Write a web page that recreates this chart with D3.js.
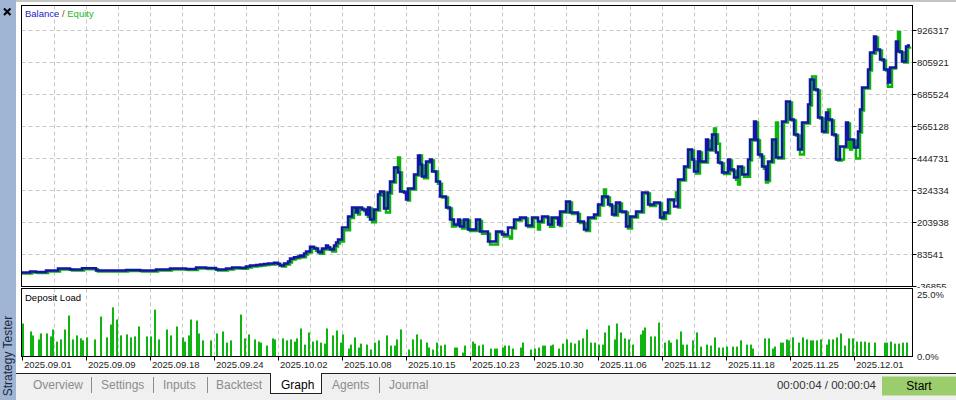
<!DOCTYPE html>
<html>
<head>
<meta charset="utf-8">
<script src="https://cdn.jsdelivr.net/npm/d3@7"></script>
<style>
    body { margin: 0; background: #fff; overflow: hidden; }
    svg { display: block; font-family: "Liberation Sans", Arial, sans-serif; }
</style>
</head>
<body>
<svg id="chart" width="956" height="400"></svg>
<script>
// balance after each deal: [deal number, balance]
const balance = [
    [0,15800],[4,19600],[7,17700],[12,23300],[18,30900],[24,27100],[30,32000],[37,23300],[44,23300],[52,25200],
    [59,23300],[67,27100],[74,30900],[82,29000],[87,34600],[92,32700],[97,27100],[102,30900],[105,34600],[109,33500],
    [112,38400],[114,42200],[117,44000],[119,45900],[121,47800],[123,49700],[126,52300],[128,47800],[129,42200],[131,49700],
    [133,57200],[134,68500],[136,73400],[138,76000],[139,80000],[140,77100],[141,87300],[142,94800],[144,112500],[146,106100],
    [148,92200],[150,106100],[152,117400],[153,109900],[154,102400],[156,117400],[157,128700],[158,140000],[160,185100],[163,226500],
    [165,260400],[167,241600],[168,260400],
    [170,252900],[172,234000],[173,260400],[174,215200],[176,252900],[178,309300],[179,320600],[181,256600],[183,316800],[184,358200],
    [186,410900],[188,392100],[189,320600],[191,316800],[192,290500],[193,331900],[196,384500],[198,456000],[199,422200],[200,377000],
    [202,433400],[204,441000],[205,395800],[207,358200],[209,301800],[212,260400],[214,215200],[216,196400],[218,215200],[219,188900],
    [221,215200],[223,177600],[227,215200],[229,170100],[233,132500],[237,170100],[240,158800],[243,185100],[246,215200],[249,222800],
    [252,192700],[255,222800],[258,207700],[260,226500],[263,196400],[265,222800],[268,196400],[269,245300],[272,282900],[274,241600],
    [278,207700],[281,177600],[283,222800],[286,234000],[288,271700],[290,301800],[293,271700],[295,234000],[297,279200],[299,245300],
    [302,188900],[304,226500],[307,245300],[310,316800],[313,271700],[316,279200],[319,222800],[321,241600],[323,290500],[326,264100],
    [328,365700],[331,414600],[333,478600],[335,441000],[336,395800],[338,471100],[339,433400],[342,516200],[343,478600],[345,535000],
    [347,467300],[348,429700],[350,392100],[353,441000],[354,403300],[356,373200],[358,414600],[360,384500],[363,441000],[364,516200],
    [366,583900],[367,516200],[368,459800],[370,414600],[372,365700],[373,433400],[375,516200],[377,448500],[380,583900],[382,659200],
    [384,591500],[386,535000],[388,478600],[390,580200],[393,647900],[394,742000],[396,704300],[398,599000],[400,546300],[402,617800],
    [403,591500],[405,535000],[407,441000],[409,489900],[412,580200],[413,516200],[416,486100],[418,546300],[419,629100],[420,711900],
    [423,779600],[424,843500],[426,903700],[427,854900],[429,817200],[431,779600],[433,730700],[434,787100],[437,884900],[438,847300],
    [440,809700],[442,866100],[443,869900],[444,869900]
];

// equity: [deal number, equity]
const equity = [
    [0,12000],[5,15600],[8,13700],[13,19300],[19,26900],[25,23100],[31,28000],[38,19300],[45,19300],[53,21200],
    [60,19300],[68,23100],[75,26900],[83,25000],[88,30600],[93,28700],[98,23100],[103,26900],[106,30600],[110,29500],
    [113,34400],[115,38200],[118,40000],[120,41900],[122,43800],[124,45700],[127,48300],[129,43800],[130,38200],[132,45700],
    [134,53200],[135,64500],[137,69400],[139,72000],[140,76000],[141,73100],[142,83300],[143,90800],[145,108500],[147,98100],
    [149,86200],[151,102100],[153,111400],[154,105900],[155,94400],[157,113400],[158,124700],[159,132000],[161,175100],[164,220500],
    [166,256400],[168,233600],[169,256400],
    [171,246900],[173,226000],[174,256400],[175,205200],[177,248900],[179,305300],[180,316600],[182,241600],[184,312800],[185,354200],
    [187,410900],[188,448500],[189,392100],[190,320600],[192,312800],[193,286500],[194,327900],[197,380500],[199,456000],[200,418200],
    [201,370000],[203,429400],[205,437000],[206,395800],[208,350000],[210,297800],[213,256400],[215,188900],[217,192400],[219,211200],
    [220,181000],[222,211200],[224,171600],[228,209200],[230,162000],[234,121200],[238,166100],[241,150800],[244,143700],[245,181100],
    [247,211200],[250,218800],[253,186700],[256,218800],[258,177600],[259,203700],[261,222500],[264,188400],[266,218800],[269,190400],
    [270,241300],[273,278900],[275,235600],[279,201700],[282,171600],[284,218800],[287,230000],[289,267700],[291,328000],[292,297800],
    [294,265700],[296,230000],[298,275200],[300,241300],[303,181000],[305,222500],[308,241300],[311,312800],[314,265700],[317,275200],
    [320,216800],[322,237600],[324,286500],[327,316800],[328,260100],[329,361700],[332,410600],[334,474600],[336,433000],[337,388000],
    [339,467100],[340,429400],[343,512200],[344,474600],[346,557600],[347,535000],[348,500000],[349,425700],[351,386100],[354,437000],
    [355,397300],[357,365200],[358,346900],[359,410600],[361,376500],[364,437000],[365,512200],[367,579900],[368,512200],[369,451800],
    [371,406600],[372,354000],[373,359700],[374,429400],[376,512200],[377,580200],[378,444500],[381,579900],[383,655200],[385,587500],
    [387,531000],[389,459800],[391,576200],[394,643900],[395,753300],[397,700300],[399,595000],[401,542300],[403,629100],[404,587500],
    [406,531000],[408,437000],[410,441000],[411,485900],[413,576200],[414,478600],[415,512200],[417,444700],[419,542300],[420,625100],
    [421,707900],[424,775600],[425,839500],[427,899700],[428,850900],[430,813200],[432,775600],[433,715000],[435,783100],[437,880900],
    [438,921000],[439,843300],[441,805700],[443,862100],[444,866000]
];

// deposit load in percent: [deal number, load]
const depositLoad = [
    [0,13.3],[4,10.1],[5,8.5],[8,6.9],[9,9.3],[12,9.3],[14,8.1],[15,10.9],[17,6.0],[19,6.9],
    [21,10.9],[23,16.5],[25,6.9],[27,8.5],[29,7.3],[30,6.5],[32,7.7],[36,6.9],[39,16.1],[42,7.7],
    [44,12.9],[45,19.8],[47,14.9],[49,8.5],[52,8.9],[54,7.7],[56,8.1],[58,12.1],[62,8.1],[64,8.1],
    [66,18.9],[68,6.9],[72,10.9],[74,8.5],[77,12.1],[80,7.7],[81,6.0],[83,8.5],[84,14.9],[87,14.5],
    [88,9.3],[90,6.5],[94,6.5],[97,9.3],[100,10.1],[102,5.6],[104,6.5],[109,16.9],[111,7.3],[113,8.9],
    [116,6.9],[118,6.0],[119,5.6],[122,4.4],[125,7.3],[126,6.9],[130,7.3],[132,6.5],[134,6.9],[136,6.0],
    [137,7.3],[139,11.3],[141,4.8],[143,9.7],[145,6.0],[147,6.5],[149,5.6],[151,5.2],[152,11.3],[155,8.5],
    [157,10.5],[159,5.6],[160,8.9],[163,3.2],[164,4.8],[166,7.7],[168,3.6],[169,5.2],[172,4.8],[174,2.8],
    [176,5.6],[178,6.5],[182,8.5],[184,4.4],[186,4.4],[187,6.9],[189,10.9],[193,2.8],[195,6.9],[197,8.9],
    [199,6.9],[202,5.6],[203,3.6],[205,2.8],[207,5.6],[209,4.4],[211,4.8],[216,3.6],[217,3.6],[220,1.6],
    [221,4.4],[225,6.0],[226,5.2],[228,4.4],[230,4.8],[234,3.2],[236,3.2],[237,3.2],[240,3.6],[241,4.4],
    [243,4.4],[245,3.2],[249,3.6],[250,5.6],[254,2.8],[256,3.2],[258,3.6],[260,4.4],[261,4.4],[264,4.4],
    [265,4.8],[268,3.2],[270,5.2],[272,6.9],[274,5.6],[276,5.2],[278,6.5],[280,7.3],[282,10.9],[284,5.6],
    [286,5.6],[288,4.8],[290,4.8],[291,9.7],[293,12.5],[296,6.9],[297,13.3],[299,9.7],[301,7.3],[303,6.9],
    [305,4.8],[309,8.9],[310,10.5],[311,11.7],[314,8.1],[316,8.1],[318,13.7],[321,5.6],[323,6.5],[324,5.6],
    [327,6.9],[329,10.1],[330,4.8],[332,4.8],[335,6.5],[337,9.7],[339,4.0],[342,4.8],[344,4.4],[346,7.7],
    [348,3.6],[350,3.6],[352,4.0],[355,4.0],[357,4.0],[359,6.5],[362,4.8],[364,4.8],[365,3.2],[371,7.3],
    [373,7.3],[375,3.2],[376,4.0],[379,5.6],[380,5.6],[382,6.9],[383,6.5],[385,7.7],[388,5.6],[390,7.7],
    [392,6.9],[394,6.5],[395,6.5],[397,6.5],[399,6.9],[402,4.8],[403,6.9],[405,6.9],[407,7.7],[409,9.3],
    [411,4.4],[413,7.3],[415,7.3],[417,6.0],[419,6.0],[421,6.0],[423,5.6],[426,5.6],[431,5.6],[432,5.6],
    [434,6.0],[436,5.2],[438,5.2],[440,5.6],[442,5.6]
];

const dateLabels = ["2025.09.01","2025.09.09","2025.09.18","2025.09.24","2025.10.02","2025.10.08","2025.10.15",
    "2025.10.23","2025.10.30","2025.11.06","2025.11.12","2025.11.18","2025.11.25","2025.12.01"];
const dateDeals = [0,32,64,96,128,160,192,224,256,288,320,352,384,416];
const valueTicks = [-36855,83541,203938,324334,444731,565128,685524,805921,926317];
const loadTicks = [0,25];
const tabNames = ["Overview","Settings","Inputs","Backtest","Graph","Agents","Journal"];
const tabLeft = [33,101,163,216,281,332,389];
const tabSeparators = [91,153,207,379];

const svg = d3.select("#chart");
const BLUE = "#1414a8", GREEN = "#0db30d", GRID = "#c8c8c8", TEXT = "#1e1e1e";

const main = {left: 21.5, right: 912.5, top: 5.5, bottom: 286.5};
const load = {top: 288.5, bottom: 356.5};

const x = d3.scaleLinear().domain([0, 445]).range([22, 912]);
const y = d3.scaleLinear().domain([-36855, 926317]).range([286.5, 30.5]);
const yLoad = d3.scaleLinear().domain([0, 25]).range([356.5, 294.5]);

// top strip and left side bar
svg.append("rect").attr("x", 0).attr("y", 0).attr("width", 956).attr("height", 2).attr("fill", "#c4c4c4");
svg.append("rect").attr("x", 0).attr("y", 0).attr("width", 16).attr("height", 400).attr("fill", "#a0b5d3");
svg.append("path").attr("d", "M4,8.5L10.5,15M10.5,8.5L4,15")
    .attr("stroke", "#000").attr("stroke-width", 2);
svg.append("text")
    .attr("transform", "translate(12,356) rotate(-90)")
    .attr("text-anchor", "middle")
    .attr("font-size", 12).attr("fill", "#1c2840")
    .text("Strategy Tester");

// grids
const vGrid = d3.range(32, 890, 32).map(p => x.invert(22 + p));
[[main.top, main.bottom], [load.top, load.bottom]].forEach(([t, b]) => {
    svg.append("g").selectAll("line").data(vGrid).enter().append("line")
        .attr("x1", d => Math.round(x(d)) + 0.5).attr("x2", d => Math.round(x(d)) + 0.5)
        .attr("y1", t).attr("y2", b)
        .attr("stroke", GRID).attr("stroke-dasharray", "4,3");
});
svg.append("g").selectAll("line").data(valueTicks.slice(1)).enter().append("line")
    .attr("x1", main.left).attr("x2", main.right)
    .attr("y1", d => y(d)).attr("y2", d => y(d))
    .attr("stroke", GRID).attr("stroke-dasharray", "4,3");

// balance / equity lines
svg.append("clipPath").attr("id", "clipMain").append("rect")
    .attr("x", main.left).attr("y", main.top).attr("width", main.right - main.left).attr("height", main.bottom - main.top);
svg.append("clipPath").attr("id", "clipAxis").append("rect")
    .attr("x", main.right).attr("y", 0).attr("width", 50).attr("height", main.bottom + 1.5);

const line = d3.line().x(d => x(d[0])).y(d => y(d[1])).curve(d3.curveStepAfter);
const lines = svg.append("g").attr("clip-path", "url(#clipMain)");
lines.append("path").datum(equity).attr("d", line)
    .attr("fill", "none").attr("stroke", GREEN).attr("stroke-width", 2.5);
lines.append("path").datum(balance).attr("d", line)
    .attr("fill", "none").attr("stroke", BLUE).attr("stroke-width", 2.5);

// deposit load bars
svg.append("g").selectAll("rect").data(depositLoad).enter().append("rect")
    .attr("x", d => x(d[0]))
    .attr("y", d => yLoad(d[1]))
    .attr("width", 2)
    .attr("height", d => yLoad(0) - yLoad(d[1]))
    .attr("fill", "#10b410");

// pane frames
[[main.top, main.bottom], [load.top, load.bottom]].forEach(([t, b]) => {
    svg.append("rect").attr("x", main.left).attr("y", t)
        .attr("width", main.right - main.left).attr("height", b - t)
        .attr("fill", "none").attr("stroke", "#000");
});

// legend
const legend = svg.append("text").attr("x", 25).attr("y", 17).attr("font-size", 9.5);
legend.append("tspan").attr("fill", "#2222c8").text("Balance");
legend.append("tspan").attr("fill", "#8a3a3a").text(" / ");
legend.append("tspan").attr("fill", "#22b822").text("Equity");

svg.append("text").attr("x", 25).attr("y", 301).attr("font-size", 9.5).attr("fill", "#000").text("Deposit Load");

// right value axis (bottom label is cut by the lower pane, as in the terminal)
const vAxis = svg.append("g").attr("clip-path", "url(#clipAxis)");
vAxis.selectAll("line").data(valueTicks).enter().append("line")
    .attr("x1", main.right).attr("x2", main.right + 4)
    .attr("y1", d => y(d)).attr("y2", d => y(d)).attr("stroke", "#000");
vAxis.selectAll("text").data(valueTicks).enter().append("text")
    .attr("x", 917).attr("y", d => y(d)).attr("dy", "0.35em")
    .attr("font-size", 9.5).attr("fill", TEXT)
    .text(d => d);

svg.append("g").selectAll("text").data(loadTicks).enter().append("text")
    .attr("x", 917).attr("y", d => yLoad(d)).attr("dy", "0.35em")
    .attr("font-size", 9.5).attr("fill", TEXT)
    .text(d => d.toFixed(1) + "%");

// date axis
const dAxis = svg.append("g");
dAxis.selectAll("line").data(dateDeals).enter().append("line")
    .attr("x1", d => x(d) + 0.5).attr("x2", d => x(d) + 0.5)
    .attr("y1", load.bottom).attr("y2", load.bottom + 4).attr("stroke", "#000");
dAxis.selectAll("text").data(dateDeals).enter().append("text")
    .attr("x", d => x(d) + 2).attr("y", 367.5)
    .attr("font-size", 9.5).attr("fill", TEXT)
    .text((d, i) => dateLabels[i]);

// tab strip
const graphTab = tabNames.indexOf("Graph");
svg.append("rect").attr("x", 16).attr("y", 374).attr("width", 940).attr("height", 26).attr("fill", "#f0f0f0");
svg.append("rect").attr("x", 270.5).attr("y", 373.5).attr("width", 51).attr("height", 20)
    .attr("fill", "#fff").attr("stroke", "#202020");
svg.append("line").attr("x1", 16).attr("x2", 270.5).attr("y1", 373.5).attr("y2", 373.5).attr("stroke", "#202020");
svg.append("line").attr("x1", 321.5).attr("x2", 956).attr("y1", 373.5).attr("y2", 373.5).attr("stroke", "#202020");
svg.append("line").attr("x1", 271).attr("x2", 321).attr("y1", 373.5).attr("y2", 373.5).attr("stroke", "#fff");

svg.append("g").selectAll("text").data(tabNames).enter().append("text")
    .attr("x", (d, i) => tabLeft[i]).attr("y", 388.5)
    .attr("font-size", 12)
    .attr("fill", (d, i) => i === graphTab ? "#000" : "#8c8c8c")
    .text(d => d);
svg.append("g").selectAll("line").data(tabSeparators).enter().append("line")
    .attr("x1", d => d + 0.5).attr("x2", d => d + 0.5)
    .attr("y1", 377).attr("y2", 393).attr("stroke", "#8c8c8c");

svg.append("text").attr("x", 876).attr("y", 389).attr("text-anchor", "end")
    .attr("font-size", 11.5).attr("fill", "#333").text("00:00:04 / 00:00:04");
svg.append("rect").attr("x", 882).attr("y", 376.5).attr("width", 74).attr("height", 19).attr("fill", "#9ccd6c");
svg.append("text").attr("x", 919).attr("y", 390).attr("text-anchor", "middle")
    .attr("font-size", 12).attr("fill", "#000").text("Start");
</script>
</body>
</html>
